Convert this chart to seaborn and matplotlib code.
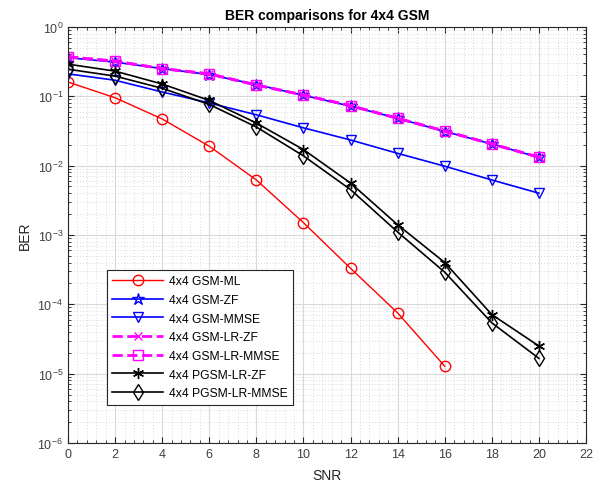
import numpy as np
import pandas as pd
import seaborn as sns
import matplotlib.pyplot as plt
from matplotlib.ticker import MultipleLocator, LogLocator, NullFormatter

# SNR points and BER values
snr = [0, 2, 4, 6, 8, 10, 12, 14, 16, 18, 20]
snr_ml = [0, 2, 4, 6, 8, 10, 12, 14, 16]

gsm_ml = [0.16, 0.095, 0.047, 0.019, 0.0062, 0.0015, 0.00033, 0.000075, 0.0000128]
gsm_zf = [0.36, 0.31, 0.25, 0.205, 0.147, 0.103, 0.072, 0.048, 0.031, 0.0205, 0.0131]
gsm_mmse = [0.21, 0.17, 0.115, 0.08, 0.054, 0.035, 0.0234, 0.015, 0.0098, 0.0062, 0.004]
gsm_lr_zf = [0.37, 0.32, 0.25, 0.21, 0.145, 0.104, 0.073, 0.048, 0.0315, 0.0205, 0.0132]
gsm_lr_mmse = [0.37, 0.32, 0.25, 0.21, 0.145, 0.104, 0.073, 0.048, 0.0315, 0.0205, 0.0132]
pgsm_lr_zf = [0.29, 0.23, 0.15, 0.087, 0.041, 0.017, 0.0056, 0.0014, 0.0004, 0.000071, 0.000025]
pgsm_lr_mmse = [0.245, 0.195, 0.13, 0.076, 0.036, 0.0138, 0.0045, 0.0011, 0.00029, 0.000054, 0.0000166]

plt.rcParams['font.family'] = ['Liberation Sans', 'DejaVu Sans']

fig = plt.figure(figsize=(6.13, 4.89), dpi=100)
ax = fig.add_axes([0.111, 0.092, 0.845, 0.851])

asterisk = (6, 2, 0)
series = [
    ("4x4 GSM-ML", snr_ml, gsm_ml, "red", "o", "-", 1.0, 7.5),
    ("4x4 GSM-ZF", snr, gsm_zf, "blue", "*", "-", 1.2, 9),
    ("4x4 GSM-MMSE", snr, gsm_mmse, "blue", "v", "-", 1.2, 7.5),
    ("4x4 GSM-LR-ZF", snr, gsm_lr_zf, "magenta", "x", "--", 2.0, 6),
    ("4x4 GSM-LR-MMSE", snr, gsm_lr_mmse, "magenta", "s", "--", 2.0, 7.5),
    ("4x4 PGSM-LR-ZF", snr, pgsm_lr_zf, "black", asterisk, "-", 1.2, 8),
    ("4x4 PGSM-LR-MMSE", snr, pgsm_lr_mmse, "black", "d", "-", 1.2, 8),
]

for label, xs, ys, col, mk, ls, lw, ms in series:
    sns.lineplot(x=xs, y=ys, ax=ax, color=col, marker=mk, linestyle=ls,
                 linewidth=lw, markersize=ms, mfc="none", mec=col, mew=1.0,
                 label=label)

ax.set_yscale("log")
ax.set_xlim(0, 22)
ax.set_ylim(1e-6, 1)
ax.xaxis.set_major_locator(MultipleLocator(2))
ax.xaxis.set_minor_locator(MultipleLocator(0.4))
ax.xaxis.set_minor_formatter(NullFormatter())
ax.yaxis.set_major_locator(LogLocator(base=10, numticks=10))
ax.yaxis.set_minor_locator(LogLocator(base=10, subs=np.arange(2, 10), numticks=20))
ax.yaxis.set_minor_formatter(NullFormatter())

ax.grid(which="major", color="#d9d9d9", linewidth=0.8, linestyle="-")
ax.grid(which="minor", color="#cfcfcf", linewidth=0.6, linestyle=(0, (1, 2.5)))
ax.set_axisbelow(True)
ax.tick_params(which="both", direction="in", top=True, right=True,
               labelsize=9, colors="#262626", labelcolor="#404040")
ax.tick_params(which="major", length=4)
ax.tick_params(which="minor", length=2)
for sp in ax.spines.values():
    sp.set_color("#262626")
    sp.set_linewidth(0.8)

ax.set_xlabel("SNR", fontsize=10, color="#262626", labelpad=6)
ax.set_ylabel("BER", fontsize=10, color="#262626")
ax.set_title("BER comparisons for 4x4 GSM", fontsize=10, fontweight="bold", pad=6)

leg = ax.legend(loc="lower left", bbox_to_anchor=(0.075, 0.092), fontsize=8.7,
                handlelength=4.2, fancybox=False, framealpha=1,
                edgecolor="#262626", borderpad=0.45, labelspacing=0.55,
                handletextpad=0.5, borderaxespad=0)
leg.get_frame().set_linewidth(0.8)

fig.savefig("out.png", dpi=100)
